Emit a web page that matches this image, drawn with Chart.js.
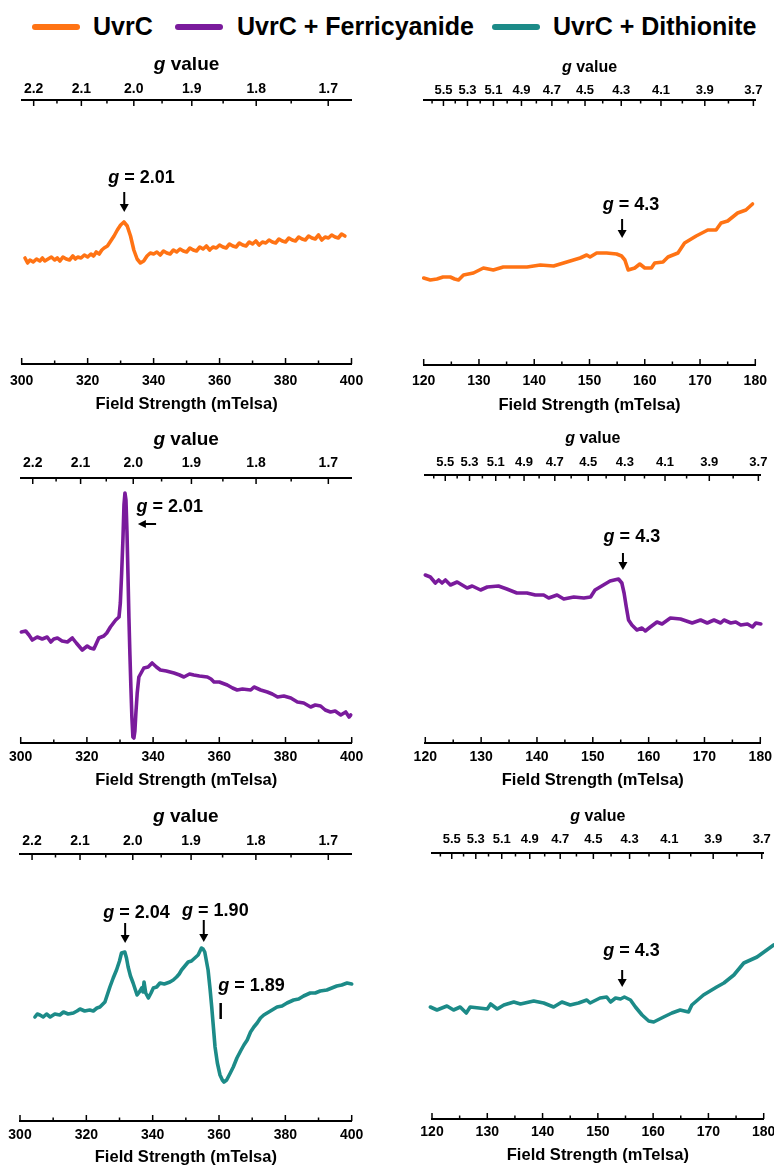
<!DOCTYPE html>
<html>
<head>
<meta charset="utf-8">
<title>UvrC EPR spectra</title>
<script src="https://cdn.jsdelivr.net/npm/chart.js@4.4.1/dist/chart.umd.min.js"></script>
<style>
  html, body { margin: 0; padding: 0; background: #fff; }
  body { position: relative; width: 774px; height: 1166px; overflow: hidden; font-family: Arial, "Liberation Sans", sans-serif; }
  .panel { position: absolute; }
  .leg-line { position: absolute; top: 24px; width: 48px; height: 6px; border-radius: 3px; }
  .leg-text { position: absolute; top: 14px; font-size: 25px; line-height: 25px; font-weight: bold; color: #000; white-space: nowrap; }
</style>
</head>
<body>
<div id="legend"></div>
<script>
// ---- series names / colours ----
const seriesNames = ['UvrC', 'UvrC + Ferricyanide', 'UvrC + Dithionite'];
const seriesColors = ['#ff7314', '#7a1b9c', '#1c8b88'];

// ---- axis ticks ----
const highFieldTicks = [300, 320, 340, 360, 380, 400];
const highFieldMinor = [310, 330, 350, 370, 390];
const highGTicks = [2.2, 2.1, 2.0, 1.9, 1.8, 1.7];
const highGMinor = [2.15, 2.05, 1.95, 1.85, 1.75];
const lowFieldTicks = [120, 130, 140, 150, 160, 170, 180];
const lowFieldMinor = [125, 135, 145, 155, 165, 175];
const lowGTicks = [5.5, 5.3, 5.1, 4.9, 4.7, 4.5, 4.3, 4.1, 3.9, 3.7];
const lowGMinor = [5.6, 5.4, 5.2, 5.0, 4.8, 4.6, 4.4, 4.2, 4.0, 3.8];

// ---- spectra (field in mT, signal in arbitrary units) ----
const uvrcHighField = [301,301.8,302.5,303.5,304.5,305.5,306.3,307,308,309,310,310.8,311.6,312.5,313.5,314.5,315.5,316.3,317,318,319,320,321,321.8,322.6,323.5,324.3,325,326,327,328,329,330,331,332,333,334,335,336,337,338,339,340,341,342,343,344,345,346,347,348,349,350,351,352,353,354,355,356,357,358,359,360,361,362,363,364,365,366,367,368,369,370,371,372,373,374,375,376,377,378,379,380,381,382,383,384,385,386,387,388,389,390,391,392,393,394,395,396,397,398,399,400];
const uvrcHighSignal = [106,101,104,102,105,103,106,103,105,107,104,106,103,107,105,104,108,105,107,106,109,107,110,108,112,110,114,116,118,123,128,134,139,142,138,128,114,105,101,103,108,111,110,112,109,113,111,110,114,112,115,113,112,116,114,113,117,115,118,114,117,116,119,117,116,120,118,117,121,119,118,122,120,123,119,122,121,124,122,121,125,123,122,126,124,123,127,125,124,128,126,125,129,124,127,126,129,127,126,130,128];

const uvrcLowField = [120,121.2,122.4,123.5,124.8,125.6,126.3,127.2,129.0,130.8,132.6,134.4,136.3,138.7,141.1,143.5,145.3,147.1,148.3,149.5,150.1,151.3,153.1,154.9,155.8,156.4,157.0,158.2,159.1,160.0,161.2,161.8,163.3,164.2,166.0,167.2,169.3,171.4,172.9,173.8,175.0,176.8,178.3,179.5];
const uvrcLowSignal = [87,85,86,88,88,86,85,90,92,97,95,98,98,98,100,99,102,105,107,110,108,112,112,111,109,105,95,97,101,97,97,102,103,108,112,122,129,135,135,142,144,152,155,161];

const ferriHighField = [300.2,301.5,302.5,303.5,305,306.5,308,309.1,310,311.1,312.5,314.1,315.6,316.8,318.6,320.1,321,322.1,323.6,325.1,326,327.1,328.7,329.7,330.1,330.5,330.9,331.2,331.5,331.8,332.1,332.4,332.7,333,333.3,333.6,333.9,334.2,334.5,334.8,335.2,335.7,337.2,338.5,339.7,341,342.2,344,346.3,348,349.3,351,352.3,354,356.4,357.5,358.4,360,362.4,364,365.4,367,369.5,370.5,372.5,374.5,376,377.6,379.5,381.6,383.6,385.5,387.6,389,390.6,392,393.6,395,396.7,398.2,399.2,399.7];
const ferriHighSignal = [111,112,108,103,106,104,106,101,104,105,102,101,105,100,93,97,95,94,105,107,110,116,123,126,140,170,205,238,250,243,212,170,125,88,55,25,6,5,12,30,50,66,75,76,80,76,73,72,70,68,66,69,68,67,66,64,61,61,58,55,53,54,53,56,53,51,49,46,47,45,41,40,36,38,37,33,31,32,28,31,26,28];

const ferriLowField = [120.0,120.9,121.8,122.4,123.0,123.6,124.5,125.7,127.5,128.4,129.9,131.1,133.1,134.6,136.4,138.2,139.7,141.2,142.1,143.6,144.8,146.6,148.4,149.6,150.4,151.9,153.1,154.6,155.2,155.6,156.0,156.4,157.0,157.9,158.8,159.4,160.3,161.5,162.4,163.9,165.7,167.8,169.3,170.5,171.7,172.9,173.5,174.7,175.6,176.5,177.7,178.6,179.2,180.1];
const ferriLowSignal = [168,166,160,163,160,163,158,161,155,157,153,156,157,154,150,150,148,148,145,148,144,146,145,146,153,158,162,164,160,150,136,123,118,113,115,112,116,121,119,125,124,120,123,120,123,120,123,120,121,118,119,116,120,119];

const dithHighField = [304.5,305.2,306,307,308,309.1,310.5,312,313.1,314.5,316.1,317.2,318.1,319.5,321,322.1,323.2,324.1,325.6,327.1,328.1,329.1,330,330.6,331.6,332.1,332.6,333.3,334.1,335.3,336,336.7,337.1,337.4,337.9,338.7,339.5,340.2,341.2,342.2,343.5,345.2,346.2,347.2,348,348.7,349.7,350.7,351.7,352.7,353.7,354.7,355.2,355.7,356.7,357.3,357.8,358.3,358.8,359.5,360.3,361,361.5,362.3,363.4,364.3,365.4,366.5,367.5,368.5,369.5,370.5,371.5,372.5,373.5,375,376.5,377.5,379,380.5,382.5,384,385.5,387.5,389,390.5,392.5,394,395.5,397,398.6,400,401.5,402.6,402.7];
const dithHighSignal = [104,107,106,104,107,104,107,106,109,107,108,110,112,110,111,110,113,114,119,134,143,151,160,168,169,163,154,145,138,126,129,133,129,139,128,123,128,133,134,138,137,139,141,144,147,151,155,159,160,163,166,173,172,169,151,132,114,94,74,58,46,41,39,41,48,54,63,70,76,81,89,94,98,103,106,109,112,114,115,118,121,122,125,128,128,130,131,133,135,136,138,137,139,139,123];

const dithLowField = [118.8,119.7,120.9,122.7,123.9,125.1,126.2,126.9,128.5,130.0,130.6,131.8,133.0,134.8,136.0,138.4,140.2,142.0,143.5,145.0,146.5,148.0,148.6,150.4,151.6,152.3,153.2,154.1,154.8,155.9,156.8,158.0,159.2,160.1,161.9,163.4,164.9,166.4,167.0,169.1,171.5,172.8,174.6,176.4,178.8,181.8];
const dithLowSignal = [111,112,109,113,109,112,106,112,111,110,115,110,114,117,115,118,116,112,117,114,116,119,116,121,122,117,121,120,122,119,112,104,98,97,102,106,109,107,114,124,132,136,144,156,162,174];

// ---- annotations (field, signal) ----
const uvrcHighNotes = [{ x: 336.3, y: 186, label: '2.01' }];
const uvrcHighArrows = [{ x: 331.1, from: 172, to: 152 }];
const uvrcLowNotes = [{ x: 157.5, y: 160, label: '4.3' }];
const uvrcLowArrows = [{ x: 155.9, from: 146, to: 127 }];
const ferriHighNotes = [{ x: 345.0, y: 236, label: '2.01' }];
const ferriHighLeftArrows = [{ y: 219, from: 340.9, to: 335.4 }];
const ferriLowNotes = [{ x: 157.0, y: 206, label: '4.3' }];
const ferriLowArrows = [{ x: 155.4, from: 190, to: 173 }];
const dithHighNotes = [{ x: 335.1, y: 208, label: '2.04' }, { x: 358.9, y: 210, label: '1.90' }, { x: 369.8, y: 135, label: '1.89' }];
const dithHighArrows = [{ x: 331.7, from: 198, to: 178 }, { x: 355.4, from: 201, to: 179 }];
const dithHighBars = [{ x: 360.5, from: 118, to: 102 }];
const dithLowNotes = [{ x: 156.1, y: 168, label: '4.3' }];
const dithLowArrows = [{ x: 154.4, from: 149, to: 132 }];

const FONT = 'Arial, "Liberation Sans", sans-serif';

// g value <-> field (mT), fitted to the top axes of the figure
function gToFieldHigh(g) { return 668 / g; }
function gToFieldLow(g) { return 8.3 + 634 / g; }

// legend
const legend = document.getElementById('legend');
const legLines = [32, 175, 492];
const legTexts = [93, 237, 553];
seriesNames.forEach((name, i) => {
    const line = document.createElement('div');
    line.className = 'leg-line';
    line.style.left = legLines[i] + 'px';
    line.style.background = seriesColors[i];
    legend.appendChild(line);
    const txt = document.createElement('div');
    txt.className = 'leg-text';
    txt.style.left = legTexts[i] + 'px';
    txt.textContent = name;
    legend.appendChild(txt);
});

const high = { min: 300, max: 400, major: highFieldTicks, minor: highFieldMinor, gMajor: highGTicks, gMinor: highGMinor, gToField: gToFieldHigh, gLabelSize: 14, gTitleSize: 19 };
const low = { min: 120, max: 180, major: lowFieldTicks, minor: lowFieldMinor, gMajor: lowGTicks, gMinor: lowGMinor, gToField: gToFieldLow, gLabelSize: 13, gTitleSize: 16 };

const panels = [
    { col: 0, plotLeft: 20, plotRight: 351.5, topAxis: 100, bottomAxis: 364, gTitleY: 65, gLabelY: 89, fLabelY: 381, fTitleY: 404, range: high,
      xs: uvrcHighField, ys: uvrcHighSignal, color: seriesColors[0], notes: uvrcHighNotes, arrows: uvrcHighArrows },
    { col: 1, plotLeft: 423.7, plotRight: 755.3, topAxis: 100, bottomAxis: 365, gTitleY: 68, gLabelY: 90, fLabelY: 381, fTitleY: 405, range: low,
      xs: uvrcLowField, ys: uvrcLowSignal, color: seriesColors[0], notes: uvrcLowNotes, arrows: uvrcLowArrows },
    { col: 0, plotLeft: 20.7, plotRight: 351.7, topAxis: 478, bottomAxis: 743, gTitleY: 440, gLabelY: 463, fLabelY: 757, fTitleY: 780, range: high,
      xs: ferriHighField, ys: ferriHighSignal, color: seriesColors[1], notes: ferriHighNotes, leftArrows: ferriHighLeftArrows },
    { col: 1, plotLeft: 425.3, plotRight: 760.3, topAxis: 475, bottomAxis: 743, gTitleY: 439, gLabelY: 462, fLabelY: 757, fTitleY: 780, range: low,
      xs: ferriLowField, ys: ferriLowSignal, color: seriesColors[1], notes: ferriLowNotes, arrows: ferriLowArrows },
    { col: 0, plotLeft: 20, plotRight: 351.7, topAxis: 854, bottomAxis: 1121, gTitleY: 817, gLabelY: 841, fLabelY: 1135, fTitleY: 1157, range: high,
      xs: dithHighField, ys: dithHighSignal, color: seriesColors[2], notes: dithHighNotes, arrows: dithHighArrows, bars: dithHighBars },
    { col: 1, plotLeft: 432, plotRight: 763.7, topAxis: 853, bottomAxis: 1119, gTitleY: 817, gLabelY: 839, fLabelY: 1132, fTitleY: 1155, range: low,
      xs: dithLowField, ys: dithLowSignal, color: seriesColors[2], notes: dithLowNotes, arrows: dithLowArrows }
];

// inward tick marks, "g value" title and the g = ... labels
function panelPlugin(p, canvasTop) {
    const r = p.range;
    return {
        id: 'panelExtras',
        afterDraw(chart) {
            const { ctx, chartArea } = chart;
            const x = chart.scales.x, x2 = chart.scales.x2, y = chart.scales.y;
            ctx.save();
            ctx.strokeStyle = '#000';
            ctx.fillStyle = '#000';
            ctx.lineWidth = 1.5;
            const mark = (px, y0, len) => { ctx.beginPath(); ctx.moveTo(px, y0); ctx.lineTo(px, y0 + len); ctx.stroke(); };
            r.major.forEach(v => mark(x.getPixelForValue(v), chartArea.bottom, -6));
            r.minor.forEach(v => mark(x.getPixelForValue(v), chartArea.bottom, -3.5));
            r.gMajor.forEach(g => mark(x2.getPixelForValue(r.gToField(g)), chartArea.top, 6));
            r.gMinor.forEach(g => mark(x2.getPixelForValue(r.gToField(g)), chartArea.top, 3.5));

            // text with an italic g in front
            const drawG = (cx, cy, size, rest) => {
                ctx.textBaseline = 'middle';
                ctx.textAlign = 'left';
                ctx.font = 'italic bold ' + size + 'px ' + FONT;
                const gw = ctx.measureText('g').width;
                ctx.font = 'bold ' + size + 'px ' + FONT;
                const rw = ctx.measureText(rest).width;
                const x0 = cx - (gw + rw) / 2;
                ctx.font = 'italic bold ' + size + 'px ' + FONT;
                ctx.fillText('g', x0, cy);
                ctx.font = 'bold ' + size + 'px ' + FONT;
                ctx.fillText(rest, x0 + gw, cy);
            };
            drawG((chartArea.left + chartArea.right) / 2, p.gTitleY - canvasTop, r.gTitleSize, ' value');

            (p.notes || []).forEach(n => drawG(x.getPixelForValue(n.x), y.getPixelForValue(n.y), 18, ' = ' + n.label));

            ctx.lineWidth = 2;
            (p.arrows || []).forEach(a => {
                const px = x.getPixelForValue(a.x);
                const y1 = y.getPixelForValue(a.from), y2 = y.getPixelForValue(a.to);
                ctx.beginPath(); ctx.moveTo(px, y1); ctx.lineTo(px, y2 - 6); ctx.stroke();
                ctx.beginPath(); ctx.moveTo(px - 4.5, y2 - 8); ctx.lineTo(px + 4.5, y2 - 8); ctx.lineTo(px, y2); ctx.closePath(); ctx.fill();
            });
            (p.leftArrows || []).forEach(a => {
                const py = y.getPixelForValue(a.y);
                const x1 = x.getPixelForValue(a.from), xh = x.getPixelForValue(a.to);
                ctx.beginPath(); ctx.moveTo(x1, py); ctx.lineTo(xh + 6, py); ctx.stroke();
                ctx.beginPath(); ctx.moveTo(xh + 8, py - 4); ctx.lineTo(xh + 8, py + 4); ctx.lineTo(xh, py); ctx.closePath(); ctx.fill();
            });
            ctx.lineWidth = 2.5;
            (p.bars || []).forEach(b => {
                const px = x.getPixelForValue(b.x);
                ctx.beginPath(); ctx.moveTo(px, y.getPixelForValue(b.from)); ctx.lineTo(px, y.getPixelForValue(b.to)); ctx.stroke();
            });
            ctx.restore();
        }
    };
}

function makePanel(p) {
    const r = p.range;
    const left = p.col === 0 ? 0 : 387;
    const width = p.col === 0 ? 387 : 400;
    const top = p.topAxis - 50;
    const height = p.bottomAxis - p.topAxis + 100;

    const canvas = document.createElement('canvas');
    canvas.className = 'panel';
    canvas.width = width;
    canvas.height = height;
    canvas.style.left = left + 'px';
    canvas.style.top = top + 'px';
    canvas.style.width = width + 'px';
    canvas.style.height = height + 'px';
    document.body.appendChild(canvas);

    const fSize = 14;
    new Chart(canvas.getContext('2d'), {
        type: 'line',
        data: {
            datasets: [{
                data: p.xs.map((v, i) => ({ x: v, y: p.ys[i] })),
                borderColor: p.color,
                borderWidth: 3.6,
                pointRadius: 0,
                tension: 0,
                borderJoinStyle: 'round',
                borderCapStyle: 'round',
                clip: false
            }]
        },
        options: {
            responsive: false,
            animation: false,
            events: [],
            layout: {
                autoPadding: false,
                padding: { left: p.plotLeft - left, right: left + width - p.plotRight, top: 0, bottom: 0 }
            },
            scales: {
                x: {
                    type: 'linear',
                    position: 'bottom',
                    min: r.min,
                    max: r.max,
                    afterBuildTicks: s => { s.ticks = r.major.map(v => ({ value: v })); },
                    afterFit: s => { s.height = 50; },
                    grid: { display: false, drawTicks: false },
                    border: { display: true, color: '#000', width: 2 },
                    ticks: {
                        color: '#000',
                        autoSkip: false,
                        maxRotation: 0,
                        padding: p.fLabelY - p.bottomAxis - fSize / 2,
                        font: { family: FONT, size: fSize, weight: 'bold', lineHeight: 1 }
                    },
                    title: {
                        display: true,
                        text: 'Field Strength (mTelsa)',
                        color: '#000',
                        font: { family: FONT, size: 16.5, weight: 'bold', lineHeight: 1 },
                        padding: { top: 0, bottom: p.bottomAxis + 50 - p.fTitleY - 8.25 }
                    }
                },
                x2: {
                    type: 'linear',
                    position: 'top',
                    min: r.min,
                    max: r.max,
                    afterBuildTicks: s => { s.ticks = r.gMajor.map(g => ({ value: r.gToField(g) })); },
                    afterFit: s => { s.height = 50; },
                    grid: { display: false, drawTicks: false },
                    border: { display: true, color: '#000', width: 2 },
                    ticks: {
                        color: '#000',
                        autoSkip: false,
                        maxRotation: 0,
                        padding: p.topAxis - p.gLabelY - r.gLabelSize / 2,
                        font: { family: FONT, size: r.gLabelSize, weight: 'bold', lineHeight: 1 },
                        callback: (v, i) => r.gMajor[i].toFixed(1)
                    }
                },
                y: {
                    display: false,
                    min: 0,
                    max: p.bottomAxis - p.topAxis
                }
            },
            plugins: {
                legend: { display: false },
                tooltip: { enabled: false }
            }
        },
        plugins: [panelPlugin(p, top)]
    });
}

panels.forEach(makePanel);
</script>
</body>
</html>
